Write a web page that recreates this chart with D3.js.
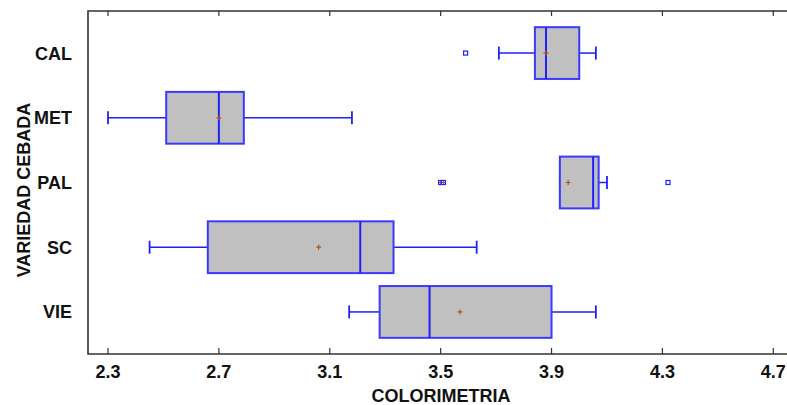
<!DOCTYPE html>
<html>
<head>
<meta charset="utf-8">
<script src="https://cdn.jsdelivr.net/npm/d3@7/dist/d3.min.js"></script>
<style>
  body { margin: 0; background: #fff; }
  svg { display: block; font-family: "Liberation Sans", Arial, sans-serif; font-weight: bold; }
</style>
</head>
<body>
<svg id="chart" width="787" height="405"></svg>
<script>
// box plot data
const categories = ["CAL", "MET", "PAL", "SC", "VIE"];
const whiskerLow = [3.71, 2.30, 3.93, 2.45, 3.17];
const q1 = [3.84, 2.51, 3.93, 2.66, 3.28];
const median = [3.88, 2.70, 4.05, 3.21, 3.46];
const q3 = [4.00, 2.79, 4.07, 3.33, 3.90];
const whiskerHigh = [4.06, 3.18, 4.10, 3.63, 4.06];
const means = [3.88, 2.70, 3.96, 3.06, 3.57];
const outlierCat = ["CAL", "PAL", "PAL", "PAL"];
const outlierVal = [3.59, 3.50, 3.51, 4.32];
const outlierFar = [false, true, true, false];
const xTicks = [2.3, 2.7, 3.1, 3.5, 3.9, 4.3, 4.7];

const svg = d3.select("#chart");
const plotLeft = 88, plotTop = 11, plotRight = 787, plotBottom = 354;

const x = d3.scaleLinear().domain([2.3, 4.7]).range([108, 773.3]);
const y = d3.scalePoint().domain(categories).range([plotTop, plotBottom]).padding(0.65);
const boxH = y.step() * 0.8;
const capH = 13;
const blue = "#1f1fff";

const boxes = categories.map((c, i) => ({
  cat: c, lo: whiskerLow[i], q1: q1[i], med: median[i], q3: q3[i], hi: whiskerHigh[i], mean: means[i]
}));

const plot = svg.append("g");

const g = plot.selectAll("g.box").data(boxes).enter().append("g").attr("class", "box");

// whiskers
g.append("line")
  .attr("x1", d => x(d.lo)).attr("x2", d => x(d.q1))
  .attr("y1", d => y(d.cat)).attr("y2", d => y(d.cat))
  .attr("stroke", blue).attr("stroke-width", 1.5);
g.append("line")
  .attr("x1", d => x(d.q3)).attr("x2", d => x(d.hi))
  .attr("y1", d => y(d.cat)).attr("y2", d => y(d.cat))
  .attr("stroke", blue).attr("stroke-width", 1.5);
// caps
g.append("line")
  .attr("x1", d => x(d.lo)).attr("x2", d => x(d.lo))
  .attr("y1", d => y(d.cat) - capH / 2).attr("y2", d => y(d.cat) + capH / 2)
  .attr("stroke", blue).attr("stroke-width", 1.8);
g.append("line")
  .attr("x1", d => x(d.hi)).attr("x2", d => x(d.hi))
  .attr("y1", d => y(d.cat) - capH / 2).attr("y2", d => y(d.cat) + capH / 2)
  .attr("stroke", blue).attr("stroke-width", 1.8);

// box
g.append("rect")
  .attr("x", d => x(d.q1)).attr("width", d => x(d.q3) - x(d.q1))
  .attr("y", d => y(d.cat) - boxH / 2).attr("height", boxH)
  .attr("fill", "#c0c0c0").attr("stroke", "#3a3aff").attr("stroke-width", 2);

// median
g.append("line")
  .attr("x1", d => x(d.med)).attr("x2", d => x(d.med))
  .attr("y1", d => y(d.cat) - boxH / 2).attr("y2", d => y(d.cat) + boxH / 2)
  .attr("stroke", blue).attr("stroke-width", 2);

// mean marker
const brown = "#b0501a";
g.append("path")
  .attr("d", d => {
    const cx = x(d.mean), cy = y(d.cat);
    return `M${cx - 2.5},${cy}H${cx + 2.5}M${cx},${cy - 2.5}V${cy + 2.5}`;
  })
  .attr("stroke", brown).attr("stroke-width", 1.2).attr("fill", "none");

// outliers
const outs = outlierCat.map((c, i) => ({ cat: c, v: outlierVal[i], far: outlierFar[i] }));
const og = plot.selectAll("g.out").data(outs).enter().append("g").attr("class", "out");
og.append("rect")
  .attr("x", d => x(d.v) - 2).attr("y", d => y(d.cat) - 2)
  .attr("width", 4).attr("height", 4)
  .attr("fill", "#fff").attr("stroke", blue).attr("stroke-width", 1.2);
og.filter(d => d.far).append("path")
  .attr("d", d => {
    const cx = x(d.v), cy = y(d.cat);
    return `M${cx - 1.5},${cy}H${cx + 1.5}M${cx},${cy - 1.5}V${cy + 1.5}`;
  })
  .attr("stroke", brown).attr("stroke-width", 1);

// frame: left, top, bottom (no right side)
const axisColor = "#333";
svg.append("path")
  .attr("d", `M${plotRight},${plotTop}H${plotLeft}V${plotBottom}H${plotRight}`)
  .attr("fill", "none").attr("stroke", axisColor).attr("stroke-width", 1.6);

// ticks point inward on bottom and top
const xAxis = svg.append("g");
xAxis.selectAll("line.bt").data(xTicks).enter().append("line")
  .attr("x1", d => x(d)).attr("x2", d => x(d))
  .attr("y1", plotBottom).attr("y2", plotBottom - 6)
  .attr("stroke", axisColor).attr("stroke-width", 1.2);
xAxis.selectAll("line.tt").data(xTicks).enter().append("line")
  .attr("x1", d => x(d)).attr("x2", d => x(d))
  .attr("y1", plotTop).attr("y2", plotTop + 5)
  .attr("stroke", axisColor).attr("stroke-width", 1.2);
xAxis.selectAll("text").data(xTicks).enter().append("text")
  .attr("x", d => x(d)).attr("y", 378)
  .attr("text-anchor", "middle")
  .attr("font-size", 18)
  .attr("fill", "#111")
  .text(d => d3.format(".1f")(d));

// category labels
svg.append("g").selectAll("text").data(categories).enter().append("text")
  .attr("x", 72).attr("y", d => y(d))
  .attr("dy", "0.36em")
  .attr("text-anchor", "end")
  .attr("font-size", 18)
  .attr("fill", "#111")
  .text(d => d);

// axis titles
svg.append("text")
  .attr("x", 441).attr("y", 402)
  .attr("text-anchor", "middle")
  .attr("font-size", 18)
  .attr("fill", "#111")
  .text("COLORIMETRIA");

svg.append("text")
  .attr("transform", "translate(30,190) rotate(-90)")
  .attr("text-anchor", "middle")
  .attr("font-size", 18)
  .attr("fill", "#111")
  .text("VARIEDAD CEBADA");
</script>
</body>
</html>
